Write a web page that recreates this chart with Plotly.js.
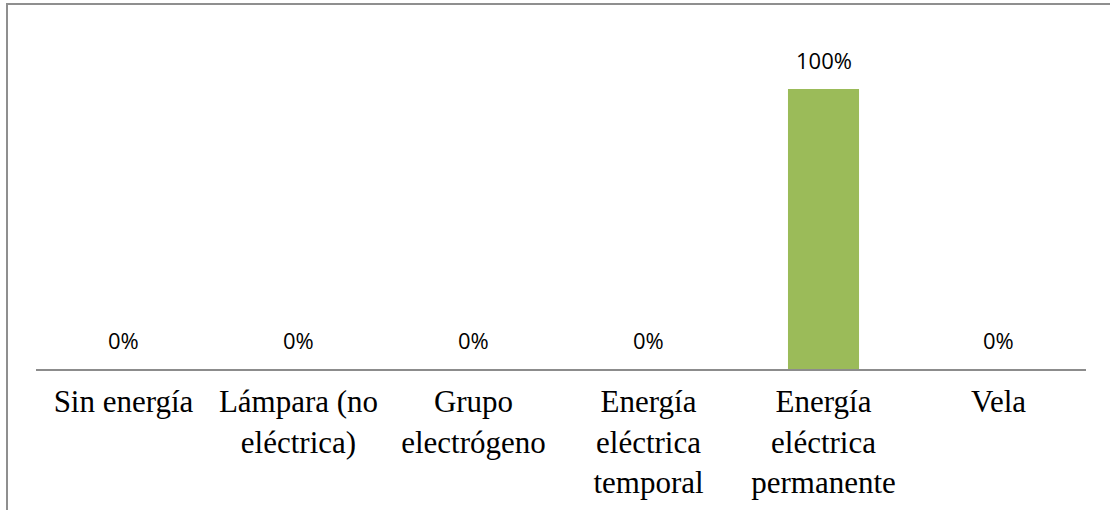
<!DOCTYPE html>
<html>
<head>
<meta charset="utf-8">
<script src="https://cdn.plot.ly/plotly-3.0.1.min.js"></script>
<style>
  html, body { margin: 0; padding: 0; background: #ffffff; }
  #wrap { position: relative; width: 1110px; height: 510px; overflow: hidden; }
  #chart { width: 1110px; height: 510px; }
  #frame { position: absolute; left: 6px; top: 3px; width: 1200px; height: 600px;
           border-left: 2px solid #8f8f8f; border-top: 2px solid #8f8f8f; pointer-events: none; }
</style>
</head>
<body>
<div id="wrap">
  <div id="chart"></div>
  <div id="frame"></div>
</div>
<script>
const categories = [
  "Sin energía",
  "Lámpara (no<br>eléctrica)",
  "Grupo<br>electrógeno",
  "Energía<br>eléctrica<br>temporal",
  "Energía<br>eléctrica<br>permanente",
  "Vela"
];
const values = [0, 0, 0, 0, 1.00, 0];
const labels = ["0%", "0%", "0%", "0%", "100%", "0%"];

const trace = {
  type: 'bar',
  x: categories,
  y: values,
  marker: { color: '#9BBB59' },
  hoverinfo: 'skip'
};

const annotations = categories.map((c, i) => ({
  x: c, y: values[i], xref: 'x', yref: 'y',
  text: labels[i], showarrow: false,
  yanchor: 'bottom', yshift: 12,
  font: { family: 'Open Sans, sans-serif', size: 22, color: '#000000' }
}));

const layout = {
  width: 1110, height: 510,
  margin: { l: 36, r: 24, t: 33, b: 141, pad: 0 },
  paper_bgcolor: '#ffffff', plot_bgcolor: '#ffffff',
  showlegend: false,
  bargap: 0.594,
  xaxis: {
    type: 'category',
    showline: true, linecolor: '#8c8c8c', linewidth: 2,
    ticks: '', showgrid: false, zeroline: false,
    tickfont: { family: 'Liberation Serif, Times New Roman, serif', size: 31, color: '#000000' },
    ticklabelstandoff: 4
  },
  yaxis: {
    range: [0, 1.2], visible: false, showgrid: false, zeroline: false
  },
  annotations: annotations
};

Plotly.newPlot('chart', [trace], layout, { staticPlot: true, displayModeBar: false });
</script>
</body>
</html>
